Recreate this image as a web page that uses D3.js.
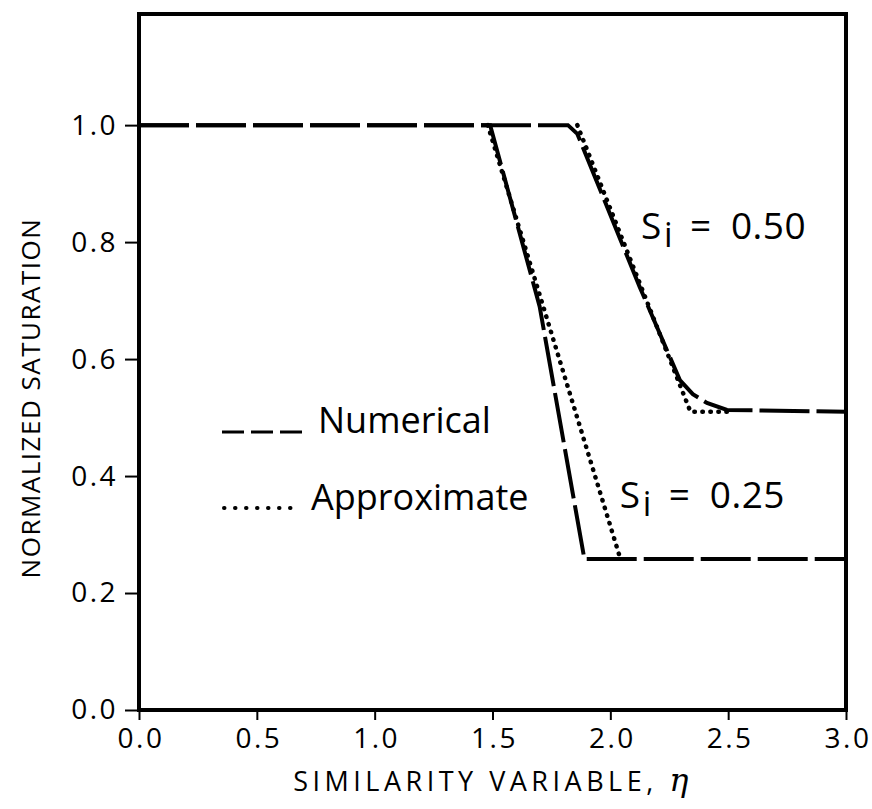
<!DOCTYPE html>
<html><head><meta charset="utf-8">
<script src="https://cdn.jsdelivr.net/npm/d3@7"></script>
<style>body{margin:0;background:#fff}svg{display:block}text{font-family:"Open Sans",sans-serif;fill:#000}</style>
</head><body>
<svg id="chart" width="872" height="809"></svg>
<script>
// ---- data ----
const xTicks = [0.0, 0.5, 1.0, 1.5, 2.0, 2.5, 3.0];
const yTicks = [0.0, 0.2, 0.4, 0.6, 0.8, 1.0];
const numerical050X = [0, 1.82, 1.86, 2.125, 2.295, 2.35, 2.41, 2.495, 3.0];
const numerical050Y = [1.0, 1.0, 0.985, 0.723, 0.564, 0.54, 0.525, 0.513, 0.51];
const numerical025X = [0, 1.49, 1.70, 1.89, 3.0];
const numerical025Y = [1.0, 1.0, 0.69, 0.258, 0.258];
const approx050X = [1.86, 2.34, 2.5];
const approx050Y = [1.0, 0.51, 0.51];
const approx025X = [1.48, 2.04];
const approx025Y = [1.0, 0.262];
const labels = [{text:"0.50", x:2.13, y:0.805}, {text:"0.25", x:2.04, y:0.345}];
const legendItems = ["Numerical", "Approximate"];

const svg = d3.select("#chart");
const x = d3.scaleLinear().domain([0, 3]).range([139, 846]);
const y = d3.scaleLinear().domain([0, 1.19]).range([710, 14]);

// axes
const xAxis = svg.append("g").attr("transform", `translate(0,${y(0)})`)
  .call(d3.axisBottom(x).tickValues(xTicks).tickFormat(d3.format(".1f")).tickSize(10).tickPadding(8));
const yAxis = svg.append("g").attr("transform", `translate(${x(0)},0)`)
  .call(d3.axisLeft(y).tickValues(yTicks).tickFormat(d3.format(".1f")).tickSize(14).tickPadding(7));
[xAxis, yAxis].forEach(g => {
  g.select(".domain").remove();
  g.selectAll(".tick line").attr("stroke", "#000").attr("stroke-width", 2);
  g.selectAll(".tick text").attr("font-size", 28).attr("font-family", "Open Sans")
    .attr("letter-spacing", 2.5);
});
xAxis.selectAll(".tick text").attr("dx", 1.5);

// frame
svg.append("rect").attr("x", x(0)).attr("y", y(1.19)).attr("width", x(3) - x(0)).attr("height", y(0) - y(1.19))
  .attr("fill", "none").attr("stroke", "#000").attr("stroke-width", 4);

const line = d3.line().x(d => x(d[0])).y(d => y(d[1]));
function series(xs, ys, dashed) {
  svg.append("path").datum(xs.map((v, i) => [v, ys[i]]))
    .attr("d", line).attr("fill", "none").attr("stroke", "#000")
    .attr("stroke-width", dashed ? 4 : 4.5)
    .attr("stroke-linecap", dashed ? "butt" : "round")
    .attr("stroke-dasharray", dashed ? "50,7" : "0.5,7.5");
}
series(numerical050X, numerical050Y, true);
series(numerical025X, numerical025Y, true);
series(approx050X, approx050Y, false);
series(approx025X, approx025Y, false);

// curve labels
labels.forEach(l => {
  const x0 = x(l.x), y0 = y(l.y);
  const g = svg.append("g");
  g.append("text").attr("x", x0).attr("y", y0).attr("font-size", 37).text("S");
  g.append("text").attr("x", x0 + 23).attr("y", y0 + 8).attr("font-size", 34).text("i");
  g.append("text").attr("x", x0 + 49).attr("y", y0).attr("font-size", 37).text("=");
  g.append("text").attr("x", x0 + 90).attr("y", y0).attr("font-size", 37).attr("letter-spacing", 0.5).text(l.text);
});

// legend
svg.append("line").attr("x1", 222).attr("x2", 302).attr("y1", 432).attr("y2", 432)
  .attr("stroke", "#000").attr("stroke-width", 3).attr("stroke-dasharray", "22,7");
svg.append("line").attr("x1", 224).attr("x2", 298).attr("y1", 508).attr("y2", 508)
  .attr("stroke", "#000").attr("stroke-width", 4).attr("stroke-linecap", "round").attr("stroke-dasharray", "0.5,10.5");
svg.append("text").attr("x", 318).attr("y", 433).attr("font-size", 36).text(legendItems[0]);
svg.append("text").attr("x", 311).attr("y", 510).attr("font-size", 36).text(legendItems[1]);

// axis titles
const xt = svg.append("text").attr("x", 493).attr("y", 791).attr("text-anchor", "middle")
  .attr("font-size", 27).attr("letter-spacing", 4.5);
xt.append("tspan").text("SIMILARITY VARIABLE, ");
xt.append("tspan").attr("font-family", "DejaVu Serif").attr("font-style", "italic").attr("font-size", 32).text("η");
svg.append("text").attr("transform", "translate(40,398) rotate(-90)").attr("text-anchor", "middle")
  .attr("font-size", 26).attr("letter-spacing", 1.5).text("NORMALIZED SATURATION");
</script>
</body></html>
